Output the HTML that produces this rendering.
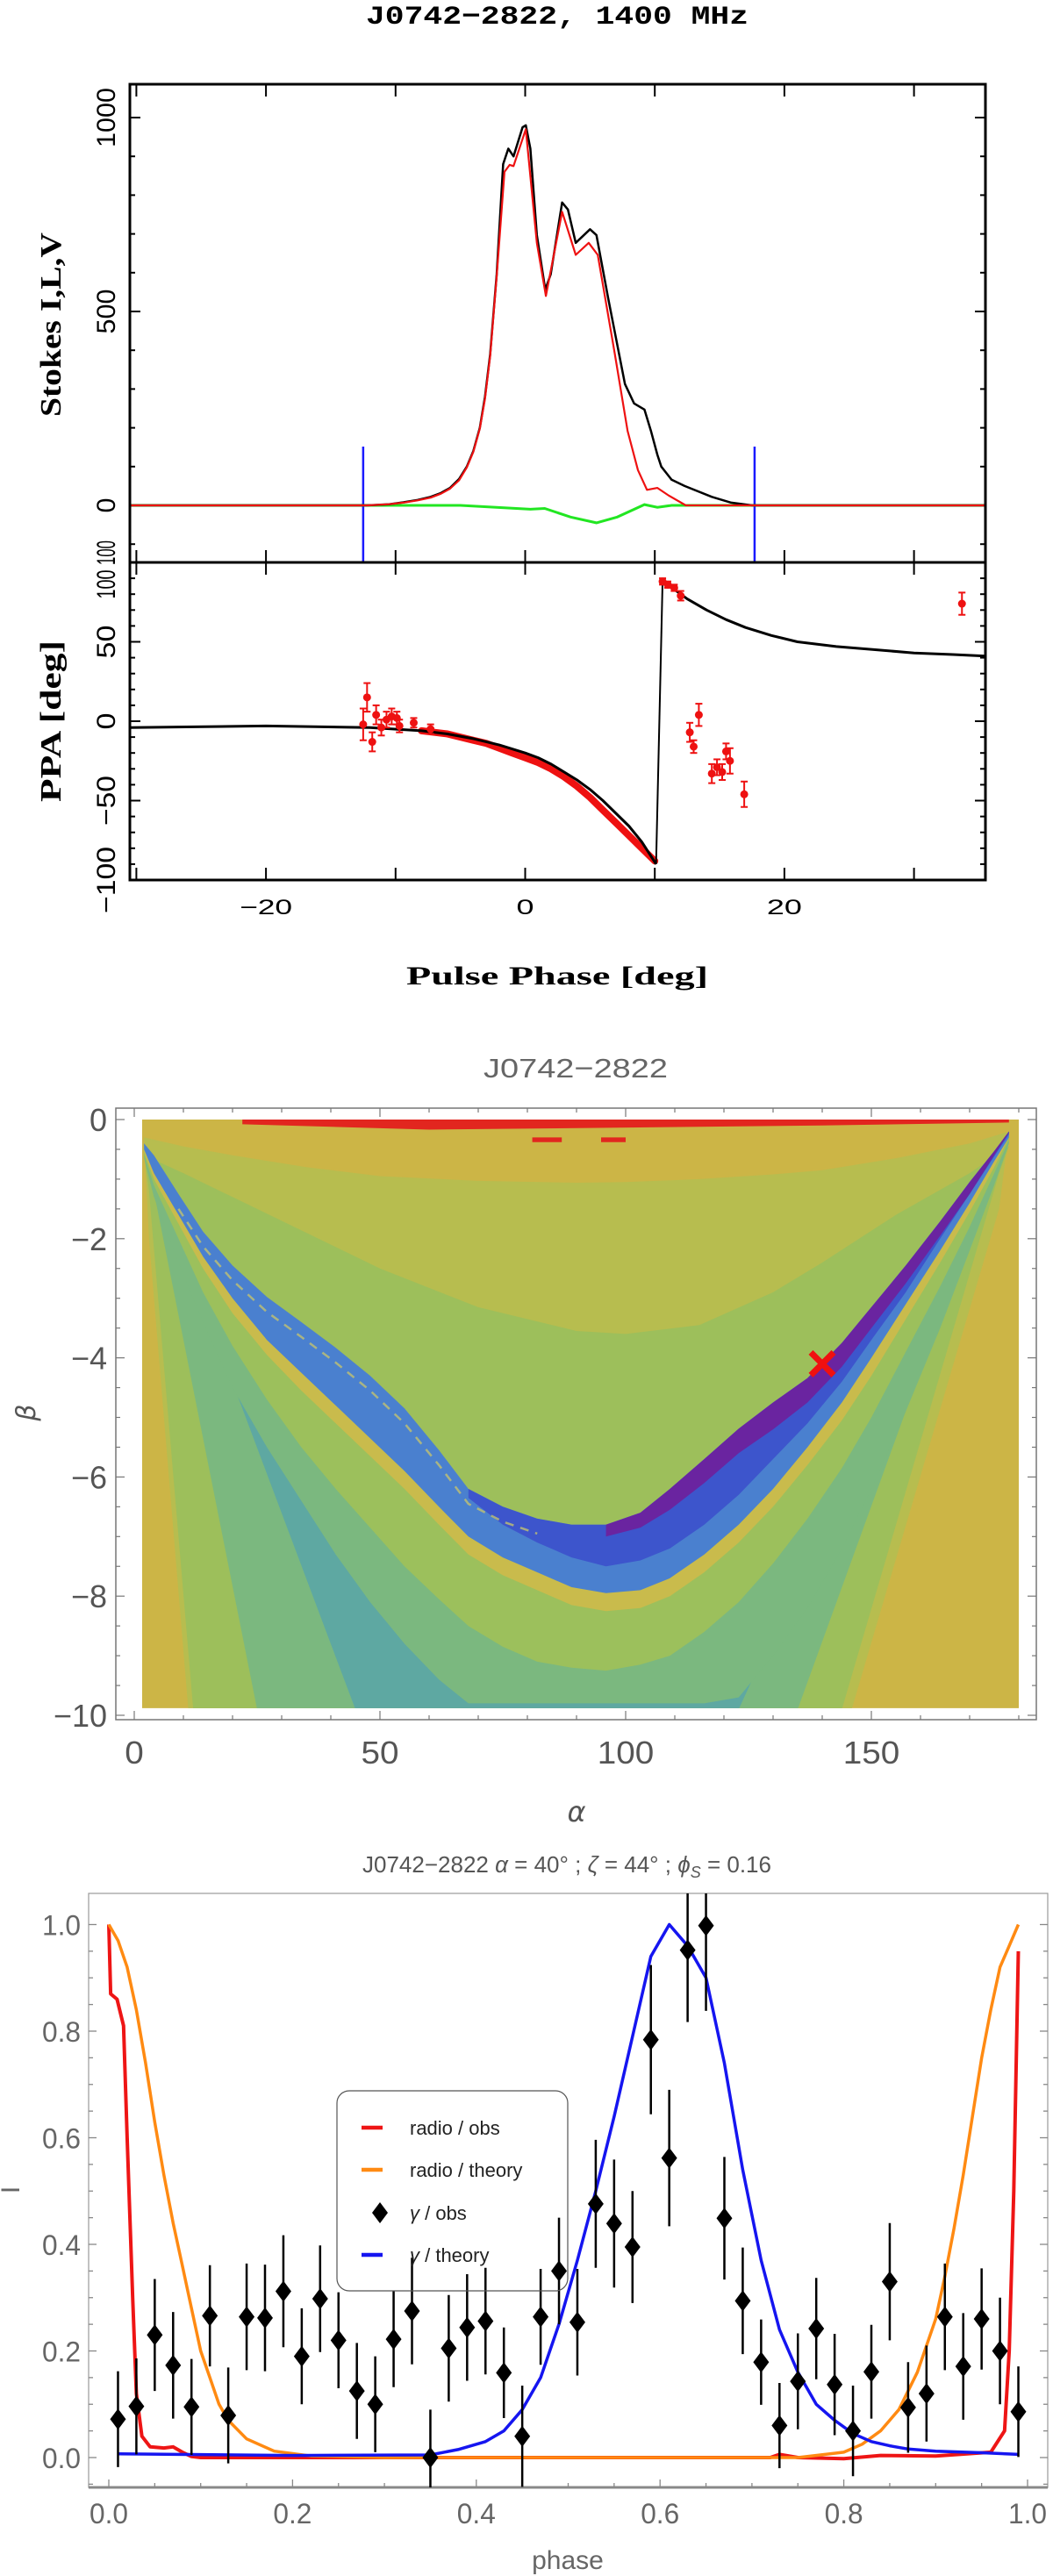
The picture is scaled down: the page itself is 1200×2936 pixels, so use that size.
<!DOCTYPE html>
<html><head><meta charset="utf-8"><style>
html,body{margin:0;padding:0;background:#fff;width:1200px;height:2936px;overflow:hidden}
svg{display:block}
</style></head><body>
<svg id="fig" xmlns="http://www.w3.org/2000/svg" width="1200" height="2936" viewBox="0 0 1200 2936"></svg>
<script>
// ---------- DATA: top panel (Stokes) ----------
const stokesPhase = [-30.5,-12.2,-10.5,-9.4,-8.3,-7.3,-6.5,-5.8,-5.1,-4.5,-4.0,-3.5,-3.1,-2.7,-2.2,-1.7,-1.3,-0.9,-0.2,0.05,0.4,0.9,1.55,1.97,2.85,3.3,3.9,5.0,5.5,6.4,7.7,8.4,9.2,9.7,10.2,10.5,11.3,12.3,14.4,15.9,17.5,35.5];
const stokesI = [0,0,3,8,14,22,32,45,68,100,140,200,280,390,595,880,920,900,975,980,920,697,556,596,781,763,677,712,697,535,313,263,247,192,130,100,66,50,22,7,0,0];
const linPhase = [-30.5,-12.2,-10.5,-9.4,-8.3,-7.3,-6.5,-5.8,-5.1,-4.5,-4.0,-3.5,-3.1,-2.7,-2.2,-1.6,-1.2,-0.9,0.05,0.9,1.6,2.85,3.9,4.9,5.6,6.9,7.9,8.7,9.4,10.2,11.1,12.4,35.5];
const linL = [0,0,3,7,13,20,30,43,65,98,138,198,275,385,590,860,878,875,970,677,540,757,646,677,646,394,192,91,40,45,25,0,0];
const circPhase = [-30.5,-5,0.4,1.5,3.5,5.5,7.1,9.2,10.2,11.3,35.5];
const circV = [0,0,-10,-8,-30,-45,-30,2,-5,0,0];
const onPulseMarks = [-12.5,17.7];
const phaseTicks = [-20,0,20];
const stokesTicks = [1000,500,0];
// ---------- DATA: PPA panel ----------
const rvmPhase = [-30.5,-20,-12,-8,-6,-4,-2,0,1,2,3,4,5,6,7,8,9,10.1];
const rvmPPA = [-4,-3,-4,-6,-8,-11,-15,-20,-23,-27,-32,-37,-43,-50,-58,-66,-76,-90];
const rvm2Phase = [10.6,11.5,12.5,14,15.5,17,19,21,24,27,30,33,35.5];
const rvm2PPA = [88,83,77,70,64,59,54,50,47,45,43,42,41];
const ppaBandPhase = [-8,-7,-6,-5,-4,-3,-2,-1,0,1,2,3,4,5,6,7,8,9,10];
const ppaBandVal = [-6,-7,-8,-10,-12,-14,-17,-20,-23,-26,-30,-35,-41,-48,-56,-64,-72,-80,-88];
const ppaObsPhase = [-12.5,-12.2,-11.8,-11.5,-11.1,-10.7,-10.3,-9.9,-9.7,-8.6,-7.3,10.6,11,11.5,12,12.7,13,13.4,14.4,14.8,15.2,15.5,15.8,16.9,33.7];
const ppaObsVal = [-2,15,-13,4,-4,1,3,2,-3,-1,-5,88,86,84,79,-7,-16,4,-33,-29,-32,-19,-25,-46,74];
const ppaObsErr = [10,9,6,6,5,5,5,4,4,3,3,2,2,2,3,6,4,7,6,5,5,5,8,8,7];
const ppaTicks = [50,0,-50,-100];
// ---------- DATA: heatmap ----------
const hmAlpha = [2,4,9,14,20,27,34,41,48,55,62,68,75,82,89,96,103,109,116,123,130,137,144,150,157,164,170,175,178];
const valleyTop = [-0.4,-0.6,-1.25,-1.88,-2.45,-2.98,-3.4,-3.83,-4.3,-4.85,-5.55,-6.2,-6.5,-6.7,-6.8,-6.8,-6.6,-6.2,-5.7,-5.19,-4.75,-4.34,-3.75,-3.15,-2.45,-1.71,-1.05,-0.53,-0.2];
const blueBottom = [-0.5,-0.9,-1.6,-2.3,-3.0,-3.7,-4.25,-4.8,-5.35,-5.9,-6.5,-7.0,-7.35,-7.6,-7.85,-7.95,-7.9,-7.7,-7.3,-6.8,-6.2,-5.5,-4.75,-4.0,-3.1,-2.2,-1.4,-0.7,-0.3];
const yellowBottom = [-0.55,-1.0,-1.75,-2.5,-3.25,-3.95,-4.55,-5.1,-5.65,-6.2,-6.8,-7.3,-7.65,-7.9,-8.15,-8.25,-8.2,-8.0,-7.6,-7.1,-6.5,-5.8,-5.05,-4.3,-3.35,-2.4,-1.55,-0.8,-0.3];
const greenBottom = [-0.6,-1.1,-2.0,-2.9,-3.8,-4.7,-5.5,-6.2,-6.85,-7.5,-8.05,-8.5,-8.85,-9.1,-9.2,-9.25,-9.15,-9.0,-8.6,-8.1,-7.45,-6.7,-5.85,-5.0,-3.9,-2.8,-1.8,-0.9,-0.35];
const tealGreenBottom = [-0.65,-1.3,-2.4,-3.4,-4.5,-5.5,-6.4,-7.3,-8.1,-8.8,-9.4,-9.8,-9.8,-9.8,-9.8,-9.8,-9.8,-9.8,-9.8,-9.7,-9.0,-8.2,-7.2,-6.2,-4.9,-3.5,-2.2,-1.1,-0.4];
const darkAlpha = [68,75,82,89,96,103,109,116,123,130,137,144,150,157,164,170,175,178];
const darkTop = [-6.2,-6.5,-6.7,-6.8,-6.8,-6.6,-6.2,-5.7,-5.19,-4.75,-4.34,-3.75,-3.15,-2.45,-1.71,-1.05,-0.53,-0.2];
const darkBottom = [-6.35,-6.8,-7.1,-7.35,-7.5,-7.4,-7.2,-6.8,-6.3,-5.7,-5.1,-4.4,-3.7,-2.9,-2.0,-1.25,-0.62,-0.25];
const purpleAlpha = [96,103,109,116,123,130,137,144,150,157,164,170,175,178];
const purpleTop = [-6.8,-6.6,-6.2,-5.7,-5.19,-4.75,-4.34,-3.75,-3.15,-2.45,-1.71,-1.05,-0.53,-0.2];
const purpleBottom = [-7.0,-6.85,-6.55,-6.1,-5.6,-5.2,-4.75,-4.15,-3.5,-2.75,-1.95,-1.25,-0.6,-0.22];
const topCurveAlpha = [2,10,20,35,50,70,90,100,115,130,140,155,170,178];
const oliveTop = [-0.3,-0.45,-0.6,-0.8,-0.95,-1.03,-1.06,-1.05,-1.0,-0.92,-0.85,-0.65,-0.4,-0.2];
const greenTop = [-0.6,-0.9,-1.3,-1.9,-2.5,-3.15,-3.55,-3.6,-3.45,-2.9,-2.4,-1.6,-0.9,-0.45];
const bestFit = [140,-4.1];
const alphaTicks = [0,50,100,150];
const betaTicks = [0,-2,-4,-6,-8,-10];
// ---------- DATA: light curves ----------
const gPhase = [0.01,0.03,0.05,0.07,0.09,0.11,0.13,0.15,0.17,0.19,0.21,0.23,0.25,0.27,0.29,0.31,0.33,0.35,0.37,0.39,0.41,0.43,0.45,0.47,0.49,0.51,0.53,0.55,0.57,0.59,0.61,0.63,0.65,0.67,0.69,0.71,0.73,0.75,0.77,0.79,0.81,0.83,0.85,0.87,0.89,0.91,0.93,0.95,0.97,0.99];
const gObs = [0.072,0.096,0.23,0.173,0.095,0.266,0.079,0.264,0.262,0.312,0.19,0.298,0.22,0.125,0.1,0.222,0.275,0.0,0.205,0.244,0.256,0.159,0.04,0.264,0.35,0.254,0.476,0.439,0.395,0.784,0.562,0.952,0.998,0.449,0.294,0.179,0.06,0.143,0.242,0.137,0.05,0.161,0.33,0.094,0.12,0.264,0.171,0.26,0.2,0.086];
const gErr = [0.09,0.09,0.105,0.1,0.09,0.095,0.09,0.1,0.1,0.105,0.09,0.1,0.09,0.09,0.09,0.09,0.1,0.09,0.1,0.1,0.1,0.085,0.095,0.09,0.1,0.1,0.12,0.12,0.105,0.14,0.128,0.135,0.16,0.115,0.1,0.08,0.08,0.09,0.095,0.095,0.085,0.088,0.11,0.085,0.09,0.1,0.1,0.095,0.1,0.085];
const gtPhase = [0.01,0.2,0.35,0.38,0.41,0.43,0.45,0.47,0.49,0.51,0.53,0.55,0.57,0.59,0.61,0.63,0.65,0.67,0.69,0.71,0.73,0.75,0.77,0.79,0.81,0.83,0.85,0.87,0.9,0.95,0.99];
const gTheory = [0.007,0.004,0.005,0.015,0.03,0.05,0.09,0.15,0.25,0.37,0.5,0.64,0.79,0.94,1.0,0.96,0.9,0.74,0.54,0.37,0.24,0.16,0.1,0.07,0.045,0.03,0.022,0.016,0.012,0.009,0.006];
const rtPhase = [0,0.01,0.02,0.03,0.04,0.05,0.06,0.07,0.08,0.09,0.1,0.11,0.12,0.13,0.15,0.18,0.22,0.3,0.75,0.8,0.82,0.84,0.86,0.88,0.9,0.91,0.92,0.93,0.94,0.95,0.96,0.97,0.98,0.99];
const rTheory = [1.0,0.97,0.92,0.84,0.74,0.63,0.53,0.44,0.36,0.28,0.2,0.15,0.1,0.07,0.035,0.012,0.003,0,0,0.01,0.025,0.05,0.09,0.16,0.26,0.34,0.43,0.53,0.64,0.75,0.84,0.92,0.96,1.0];
const roPhase = [0,0.002,0.009,0.016,0.02,0.026,0.03,0.036,0.045,0.06,0.07,0.08,0.09,0.1,0.5,0.72,0.73,0.75,0.8,0.84,0.9,0.96,0.975,0.98,0.985,0.99];
const rObs = [1.0,0.87,0.86,0.81,0.6,0.3,0.12,0.04,0.02,0.018,0.02,0.01,0.002,0,0,0,0.006,0,-0.002,0.004,0.003,0.01,0.05,0.2,0.5,0.95];
const lcXTicks = [0,0.2,0.4,0.6,0.8,1.0];
const lcYTicks = [0,0.2,0.4,0.6,0.8,1.0];

// ---------- helpers ----------
const NS='http://www.w3.org/2000/svg';
const svg=document.getElementById('fig');
function mk(tag,attrs,parent){const e=document.createElementNS(NS,tag);for(const k in attrs)e.setAttribute(k,attrs[k]);(parent||svg).appendChild(e);return e;}
function txt(s,attrs,parent){const e=mk('text',attrs,parent);e.textContent=s;return e;}
function pts(xs,ys,fx,fy){return xs.map((x,i)=>fx(x).toFixed(1)+','+fy(ys[i]).toFixed(1)).join(' ');}

// ---------- top axes ----------
const px=d=>598.5+d*14.77;
const syS=v=>576-v*0.442;
const syP=v=>822-v*1.81;
const serif='"Liberation Serif", serif';
const mono='"Liberation Mono", monospace';

let e;
e=txt('J0742−2822, 1400 MHz',{x:635,y:27,'font-family':mono,'font-weight':'bold','font-size':30,'text-anchor':'middle',textLength:436,lengthAdjust:'spacingAndGlyphs'});



const gTop=mk('g',{});


for(let v=-100;v<=1000;v+=100){const maj=(v%500===0);const L=maj?12:6;
 mk('line',{x1:148,x2:148+L,y1:syS(v),y2:syS(v),stroke:'#000','stroke-width':2},gTop);
 mk('line',{x1:1123,x2:1123-L,y1:syS(v),y2:syS(v),stroke:'#000','stroke-width':2},gTop);}
for(let d=-30;d<=30;d+=10){[[96,1],[641,-1],[641,1],[1003,-1]].forEach(([y,s])=>{mk('line',{x1:px(d),x2:px(d),y1:y,y2:y+s*14,stroke:'#000','stroke-width':2},gTop);});}
for(let v=-100;v<=100;v+=10){const maj=(v%50===0);const L=maj?12:6;
 mk('line',{x1:148,x2:148+L,y1:syP(v),y2:syP(v),stroke:'#000','stroke-width':2},gTop);
 mk('line',{x1:1123,x2:1123-L,y1:syP(v),y2:syP(v),stroke:'#000','stroke-width':2},gTop);}
onPulseMarks.forEach(d=>{e=mk('line',{x1:px(d),x2:px(d),y1:509,y2:641,stroke:'#1a1aff','stroke-width':2.5},gTop);
 
 });
e=mk('polyline',{points:pts(circPhase,circV,px,syS),fill:'none',stroke:'#22e622','stroke-width':3},gTop);


e=mk('polyline',{points:pts(stokesPhase,stokesI,px,syS),fill:'none',stroke:'#000','stroke-width':2.5,'stroke-linejoin':'round'},gTop);


e=mk('polyline',{points:pts(linPhase,linL,px,syS),fill:'none',stroke:'#ee1111','stroke-width':2.2,'stroke-linejoin':'round'},gTop);


e=mk('polyline',{points:pts(ppaBandPhase,ppaBandVal,px,syP),fill:'none',stroke:'#ee1111','stroke-width':8,'stroke-linecap':'round','stroke-linejoin':'round'},gTop);


e=mk('polyline',{points:pts(rvmPhase,rvmPPA,px,syP),fill:'none',stroke:'#000','stroke-width':3,'stroke-linejoin':'round'},gTop);


e=mk('line',{x1:px(rvmPhase[rvmPhase.length-1]),y1:syP(rvmPPA[rvmPPA.length-1]),x2:px(rvm2Phase[0]),y2:syP(rvm2PPA[0]),stroke:'#000','stroke-width':2},gTop);


e=mk('polyline',{points:pts(rvm2Phase,rvm2PPA,px,syP),fill:'none',stroke:'#000','stroke-width':3,'stroke-linejoin':'round'},gTop);


ppaObsPhase.forEach((d,i)=>{const x=px(d),y=syP(ppaObsVal[i]),y1=syP(ppaObsVal[i]+ppaObsErr[i]),y2=syP(ppaObsVal[i]-ppaObsErr[i]);
 const g=mk('g',{},gTop);
 
 
 mk('line',{x1:x,x2:x,y1:y1,y2:y2,stroke:'#ee1111','stroke-width':2},g);
 mk('line',{x1:x-4,x2:x+4,y1:y1,y2:y1,stroke:'#ee1111','stroke-width':2},g);
 mk('line',{x1:x-4,x2:x+4,y1:y2,y2:y2,stroke:'#ee1111','stroke-width':2},g);
 mk('circle',{cx:x,cy:y,r:4.5,fill:'#ee1111'},g);});
e=mk('rect',{x:148,y:96,width:975,height:545,fill:'none',stroke:'#000','stroke-width':3},gTop);


e=mk('rect',{x:148,y:641,width:975,height:362,fill:'none',stroke:'#000','stroke-width':3},gTop);


stokesTicks.forEach(v=>{const s=String(v);const L=s.length*17;
 e=txt(s,{x:0,y:0,transform:`translate(131,${syS(v)}) rotate(-90)`,'font-family':'"Liberation Sans", sans-serif','font-size':30,'text-anchor':'middle',textLength:L,lengthAdjust:'spacingAndGlyphs'},gTop);
 
 });
e=txt('100',{x:0,y:0,transform:'translate(131,630) rotate(-90)','font-family':'"Liberation Sans", sans-serif','font-size':30,'text-anchor':'middle',textLength:28,lengthAdjust:'spacingAndGlyphs'},gTop);


e=txt('100',{x:0,y:0,transform:'translate(131,666) rotate(-90)','font-family':'"Liberation Sans", sans-serif','font-size':30,'text-anchor':'middle',textLength:33,lengthAdjust:'spacingAndGlyphs'},gTop);


ppaTicks.forEach(v=>{const s=(v<0?'−':'')+Math.abs(v);const L=s.length*19;
 e=txt(s,{x:0,y:0,transform:`translate(131,${syP(v)}) rotate(-90)`,'font-family':'"Liberation Sans", sans-serif','font-size':30,'text-anchor':'middle',textLength:L,lengthAdjust:'spacingAndGlyphs'},gTop);
 
 });
phaseTicks.forEach(d=>{const s=(d<0?'−':'')+Math.abs(d);
 e=txt(s,{x:px(d),y:1042,'font-family':'"Liberation Sans", sans-serif','font-size':24,'text-anchor':'middle',textLength:s.length*20,lengthAdjust:'spacingAndGlyphs'},gTop);
 
 });
e=txt('Stokes I,L,V',{x:0,y:0,transform:'translate(69,370) rotate(-90)','font-family':serif,'font-weight':'bold','font-size':34,'text-anchor':'middle',textLength:210,lengthAdjust:'spacingAndGlyphs'},gTop);


e=txt('PPA [deg]',{x:0,y:0,transform:'translate(69,822) rotate(-90)','font-family':serif,'font-weight':'bold','font-size':34,'text-anchor':'middle',textLength:184,lengthAdjust:'spacingAndGlyphs'},gTop);


e=txt('Pulse Phase [deg]',{x:635,y:1122,'font-family':serif,'font-weight':'bold','font-size':30,'text-anchor':'middle',textLength:344,lengthAdjust:'spacingAndGlyphs'},gTop);



// ---------- heatmap ----------
const hx=a=>153+a*5.6;
const hy=b=>1276-b*67.9;
const gray='#666';
e=txt('J0742−2822',{x:656,y:1228,'font-family':'"Liberation Sans", sans-serif','font-size':31,fill:gray,'text-anchor':'middle',textLength:210,lengthAdjust:'spacingAndGlyphs'});


const defs=mk('defs',{});
const cp=mk('clipPath',{id:'hmclip'},defs);
mk('rect',{x:hx(1.6),y:hy(0),width:hx(180)-hx(1.6),height:hy(-9.88)-hy(0)},cp);
const gH=mk('g',{'clip-path':'url(#hmclip)'});


function poly(points,fill,name){const e=mk('polygon',{points:points.map(p=>hx(p[0]).toFixed(1)+','+hy(p[1]).toFixed(1)).join(' '),fill:fill},gH);
 
 return e;}
function zipA(as,bs){return as.map((a,i)=>[a,bs[i]]);}
function band(as,top,bot){return zipA(as,top).concat(zipA(as,bot).reverse());}
e=mk('rect',{x:0,y:1200,width:1200,height:800,fill:'#ccb546'},gH);


poly(zipA(topCurveAlpha,oliveTop).concat([[176,-1.5],[146,-9.9],[11,-9.9],[3,-2]]),'#b7bd4f','olive-band');
poly(zipA(topCurveAlpha,greenTop).concat([[176,-0.9],[144,-9.9],[12,-9.9],[3,-1.2]]),'#9dbf5b','green-band');
poly(zipA(hmAlpha,valleyTop).concat([[175,-0.8],[135,-9.9],[25,-9.9],[3,-0.8]]),'#7bb87f','teal-green-band');
poly(zipA(hmAlpha,valleyTop).concat([[173,-0.9],[123,-9.9],[45,-9.9],[4,-0.9]]),'#5ea8a2','teal-band');
poly(band(hmAlpha,valleyTop,tealGreenBottom),'#7bb87f','inner-teal-green-band');
poly(band(hmAlpha,valleyTop,greenBottom),'#9cc05c','inner-green-band');
poly(band(hmAlpha,valleyTop,yellowBottom),'#c9bb4c','yellow-stripe');
poly(band(hmAlpha,valleyTop,blueBottom),'#4a80cf','blue-valley');
poly(band(darkAlpha,darkTop,darkBottom),'#3d55cc','dark-blue-valley');
poly(band(purpleAlpha,purpleTop,purpleBottom),'#6a24a0','purple-valley');
e=mk('polyline',{points:pts(hmAlpha.slice(2,14),valleyTop.slice(2,14).map(v=>v-0.25),hx,hy),fill:'none',stroke:'#c0c070','stroke-width':2.5,'stroke-dasharray':'10 8',opacity:0.8},gH);


poly([[22,0],[178,0],[178,-0.05],[140,-0.1],[60,-0.17],[22,-0.08]],'#e2261f','red-top-strip');
poly([[81,-0.3],[87,-0.3],[87,-0.38],[81,-0.38]],'#e2261f','red-dash');
poly([[95,-0.3],[100,-0.3],[100,-0.38],[95,-0.38]],'#e2261f','red-dash');
const bx0=hx(bestFit[0]),by0=hy(bestFit[1]);
e=mk('path',{d:`M${bx0-13},${by0-13}L${bx0+13},${by0+13}M${bx0+13},${by0-13}L${bx0-13},${by0+13}`,stroke:'#f01010','stroke-width':7});


e=mk('rect',{x:132,y:1263,width:1049,height:697,fill:'none',stroke:'#777','stroke-width':1.5});


for(let a=0;a<=180;a+=10){const L=(a%50===0)?10:5;mk('line',{x1:hx(a),x2:hx(a),y1:1960,y2:1960-L,stroke:'#777','stroke-width':1.2});mk('line',{x1:hx(a),x2:hx(a),y1:1263,y2:1263+L,stroke:'#777','stroke-width':1.2});}
for(let b=0;b>=-10;b-=0.5){const L=(Math.abs(b)%2===0)?10:5;mk('line',{x1:132,x2:132+L,y1:hy(b),y2:hy(b),stroke:'#777','stroke-width':1.2});mk('line',{x1:1181,x2:1181-L,y1:hy(b),y2:hy(b),stroke:'#777','stroke-width':1.2});}
alphaTicks.forEach(a=>{const s=String(a);e=txt(s,{x:hx(a),y:2010,'font-family':'"Liberation Sans", sans-serif','font-size':36,fill:'#555','text-anchor':'middle',textLength:s.length*21.5,lengthAdjust:'spacingAndGlyphs'});
 
 });
betaTicks.forEach(b=>{const s=(b<0?'−':'')+Math.abs(b);e=txt(s,{x:122,y:hy(b)+13,'font-family':'"Liberation Sans", sans-serif','font-size':36,fill:'#555','text-anchor':'end'});
 
 });
e=txt('α',{x:657,y:2076,'font-family':'"DejaVu Sans", sans-serif','font-style':'italic','font-size':32,fill:'#555','text-anchor':'middle'});


e=txt('β',{x:0,y:0,transform:'translate(40,1610) rotate(-90)','font-family':'"DejaVu Sans", sans-serif','font-style':'italic','font-size':30,fill:'#555','text-anchor':'middle'});



// ---------- light curve ----------
const bx=p=>124+p*1047;
const by=v=>2801-v*607.5;
e=txt('',{x:646,y:2134,'font-family':'"Liberation Sans", "DejaVu Sans", sans-serif','font-size':26,fill:'#555','text-anchor':'middle'});
e.innerHTML='J0742−2822 <tspan font-style="italic">α</tspan> = 40° ; <tspan font-style="italic">ζ</tspan> = 44° ; <tspan font-style="italic">ϕ</tspan><tspan font-size="18" dy="6" font-style="italic">S</tspan><tspan dy="-6"> = 0.16</tspan>';


const gL=mk('g',{});


mk('rect',{x:101,y:2158,width:1093,height:677,fill:'none',stroke:'#999','stroke-width':1.2},gL);
mk('line',{x1:101,x2:1194,y1:2835,y2:2835,stroke:'#888','stroke-width':3},gL);
for(let p=0;p<=1.001;p+=0.05){const maj=Math.abs(Math.round(p*100)%20)<1;const L=maj?9:5;mk('line',{x1:bx(p),x2:bx(p),y1:2835,y2:2835-L,stroke:'#888','stroke-width':1.3},gL);}
for(let v=-0.05;v<=1.05;v+=0.05){const r=Math.round(v*100);const maj=r%20===0;const L=maj?9:5;mk('line',{x1:101,x2:101+L,y1:by(v),y2:by(v),stroke:'#888','stroke-width':1.3},gL);mk('line',{x1:1194,x2:1194-L,y1:by(v),y2:by(v),stroke:'#888','stroke-width':1.3},gL);}
lcXTicks.forEach(p=>{e=txt(p.toFixed(1),{x:bx(p),y:2876,'font-family':'"Liberation Sans", sans-serif','font-size':32,fill:'#666','text-anchor':'middle',textLength:44,lengthAdjust:'spacingAndGlyphs'},gL);
 
 });
lcYTicks.forEach(v=>{e=txt(v.toFixed(1),{x:92,y:by(v)+12,'font-family':'"Liberation Sans", sans-serif','font-size':32,fill:'#666','text-anchor':'end',textLength:44,lengthAdjust:'spacingAndGlyphs'},gL);
 
 });
e=txt('phase',{x:647,y:2928,'font-family':'"Liberation Sans", sans-serif','font-size':30,fill:'#666','text-anchor':'middle'},gL);


e=txt('I',{x:0,y:0,transform:'translate(22,2496) rotate(-90)','font-family':'"Liberation Sans", sans-serif','font-size':30,fill:'#666','text-anchor':'middle'},gL);


const cpl=mk('clipPath',{id:'lcclip'},defs);
mk('rect',{x:101,y:2158,width:1093,height:677},cpl);
const gC=mk('g',{'clip-path':'url(#lcclip)'},gL);
e=mk('polyline',{points:pts(roPhase,rObs,bx,by),fill:'none',stroke:'#ee1515','stroke-width':4,'stroke-linejoin':'round'},gC);


e=mk('polyline',{points:pts(rtPhase,rTheory,bx,by),fill:'none',stroke:'#ff8a12','stroke-width':3.5,'stroke-linejoin':'round'},gC);


e=mk('polyline',{points:pts(gtPhase,gTheory,bx,by),fill:'none',stroke:'#1515f0','stroke-width':3.5,'stroke-linejoin':'round'},gC);


gPhase.forEach((p,i)=>{const x=bx(p),y=by(gObs[i]);
 const g=mk('g',{},gC);
 
 
 mk('line',{x1:x,x2:x,y1:by(gObs[i]+gErr[i]),y2:by(gObs[i]-gErr[i]),stroke:'#000','stroke-width':2.5},g);
 mk('polygon',{points:`${x},${y-12} ${x+9},${y} ${x},${y+12} ${x-9},${y}`,fill:'#000'},g);});
const gLeg=mk('g',{});


mk('rect',{x:384,y:2383,width:263,height:228,rx:14,fill:'none',stroke:'#555','stroke-width':1.2},gLeg);
const legLabels=['radio / obs','radio / theory','γ / obs','γ / theory'];
const legColors=['#ee1515','#ff8a12','#000','#1515f0'];
const legY=[2425,2473,2522,2570];
legLabels.forEach((s,i)=>{const g=mk('g',{},gLeg);
 
 
 if(i===2){mk('polygon',{points:`433,${legY[i]-12} 442,${legY[i]} 433,${legY[i]+12} 424,${legY[i]}`,fill:'#000'},g);}
 else mk('line',{x1:412,x2:436,y1:legY[i],y2:legY[i],stroke:legColors[i],'stroke-width':4.5},g);
 const t=txt('',{x:467,y:legY[i]+8,'font-family':'"Liberation Sans", sans-serif','font-size':22,fill:'#222'},g);
 if(s.startsWith('γ')){t.innerHTML='<tspan font-style="italic">γ</tspan>'+s.slice(1);}else t.textContent=s;});
</script>
</body></html>
